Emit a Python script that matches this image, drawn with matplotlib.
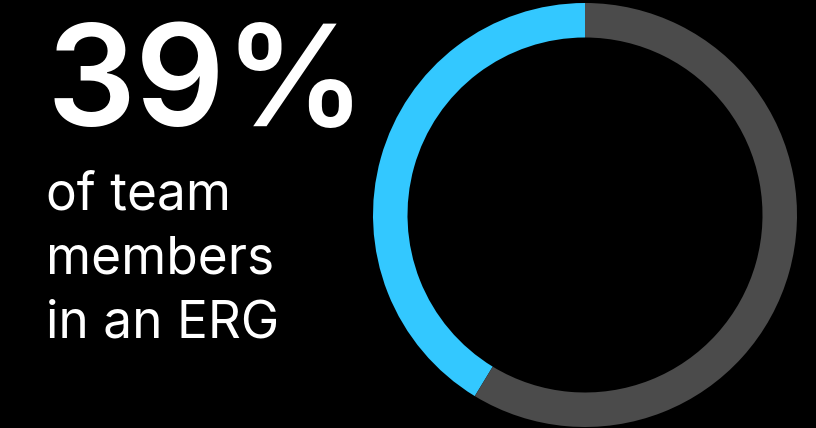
import matplotlib
matplotlib.use("Agg")
import matplotlib.pyplot as plt

# Data
headline = "39%"
caption_lines = ["of team", "members", "in an ERG"]
segment_labels = ["In an ERG", "Not in an ERG"]
segment_values = [41.3, 58.7]
segment_colors = ["#33C8FF", "#4B4B4B"]

W, H = 816, 428
fig = plt.figure(figsize=(W / 100, H / 100), dpi=100, facecolor="black")

# Donut
cx, cy, r = 585, 215, 212
ax = fig.add_axes([(cx - r) / W, (H - cy - r) / H, 2 * r / W, 2 * r / H])
ax.set_facecolor("black")
ax.pie(segment_values, colors=segment_colors, startangle=90, counterclock=True,
       radius=1.0, wedgeprops=dict(width=34.5 / r, edgecolor="none", linewidth=0))
ax.set_xlim(-1, 1)
ax.set_ylim(-1, 1)
ax.set_aspect("equal")
ax.axis("off")

# Texts
fig.text(46 / W, 1 - 126 / H, headline, color="white", fontsize=101,
         fontweight="semibold", family=["Inter", "DejaVu Sans"], va="baseline", ha="left")
baselines = [210, 274, 338]
for line, b in zip(caption_lines, baselines):
    fig.text(46 / W, 1 - b / H, line, color="white", fontsize=37,
             family=["Inter", "DejaVu Sans"], va="baseline", ha="left")

fig.savefig("out.png", dpi=100, facecolor="black")
